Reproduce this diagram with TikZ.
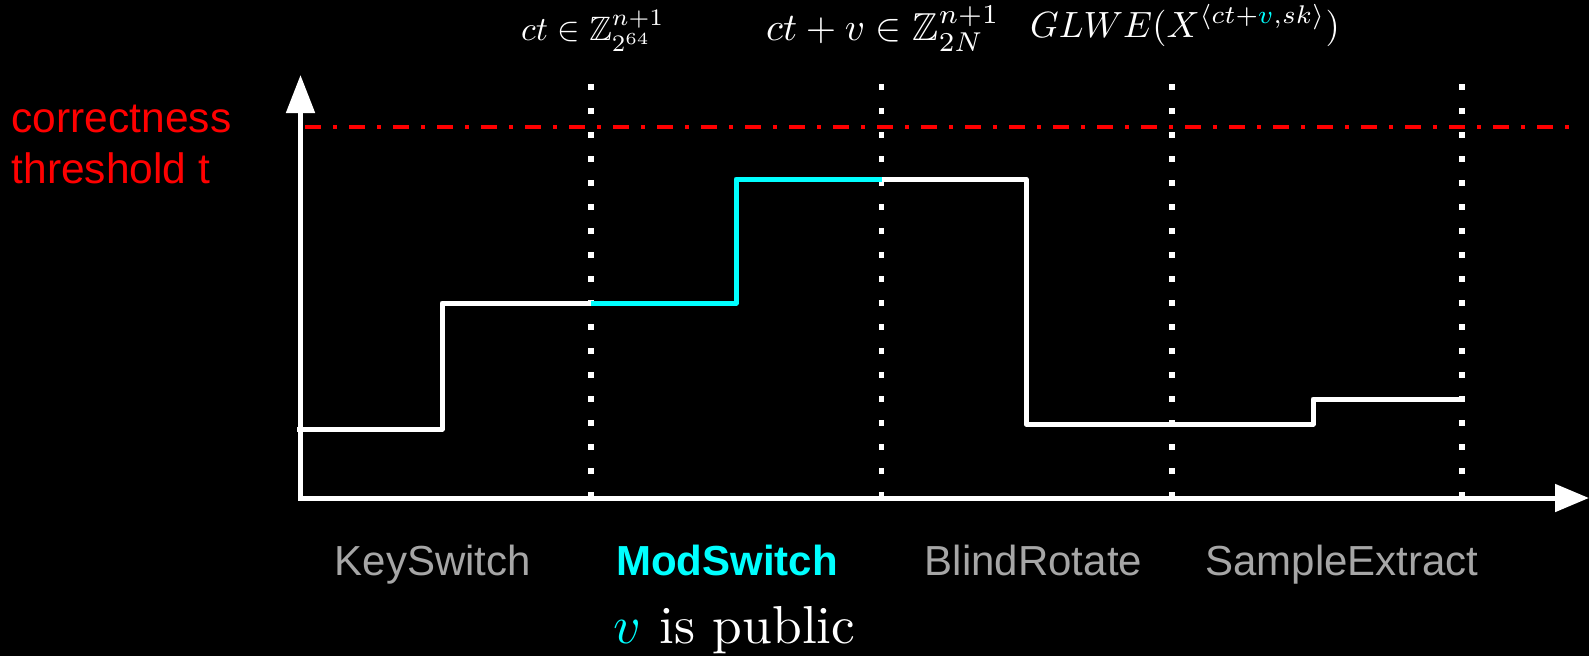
\documentclass[tikz,border=0pt]{standalone}
\usepackage{fontspec}
\usepackage{amssymb}
\usepackage{graphicx}
\usetikzlibrary{arrows.meta}
\newfontfamily\arialf{Liberation Sans}
\definecolor{cyanc}{RGB}{0,255,255}
\definecolor{labgray}{RGB}{166,166,166}
\definecolor{redc}{RGB}{255,0,0}
\begin{document}
\begin{tikzpicture}[x=1pt,y=1pt,
  stepline/.style={line width=5pt, line join=round, line cap=butt},
  dotline/.style={white, line width=5.7pt, dash pattern=on 5.7pt off 18.3pt},
  axisline/.style={white, line width=5pt, line join=miter},
  thrline/.style={redc, line width=4pt, dash pattern=on 16pt off 12pt on 4pt off 12pt},
  opname/.style={font=\arialf\fontsize{42}{50}\selectfont, text=labgray, anchor=base, inner sep=0pt},
  mathlab/.style={text=white, anchor=base west, inner sep=0pt},
  thrtext/.style={font=\arialf\fontsize{42.5}{50}\selectfont, text=redc, anchor=base west, inner sep=0pt}]
\fill[black] (0,0) rectangle (1589,-656);
\useasboundingbox (0,0) rectangle (1589,-656);

% stage boundaries (dotted)
\foreach \i/\x in {1/591,2/881.5,3/1172,4/1462}{
  \coordinate (dt\i) at (\x,-84);
  \coordinate (db\i) at (\x,-498);
  \draw[dotline] (dt\i) -- (db\i);
}

% correctness threshold
\coordinate (ts) at (305,-127);
\coordinate (te) at (1570,-127);
\draw[thrline] (ts) -- (te);

% noise levels
\draw[stepline, white] (297,-429) -- (442,-429) -- (442,-303) -- (591,-303);
\draw[stepline, cyanc] (591,-303) -- (736,-303) -- (736,-179) -- (882,-179);
\draw[stepline, white] (882,-179) -- (1026,-179) -- (1026,-424) -- (1313,-424) -- (1313,-399) -- (1462,-399);

% axes
\coordinate (origin) at (300.5,-498);
\coordinate (ytip) at (300.5,-75);
\coordinate (xtip) at (1589,-498);
\draw[axisline, {Triangle[length=38pt,width=28pt]}-{Triangle[length=34pt,width=27pt]}] (ytip) -- (origin) -- (xtip);

% top labels
\node[mathlab] (l1) at (521,-40) {\scalebox{3.38}{$ct \in \mathbb{Z}_{2^{64}}^{n+1}$}};
\node[mathlab] (l2) at (766,-40) {\scalebox{3.9}{$ct + v \in \mathbb{Z}_{2N}^{n+1}$}};
\node[mathlab] (l3) at (1030,-37) {\scalebox{3.65}{$GLWE(X^{\langle ct+\textcolor{cyanc}{v},sk\rangle})$}};

% threshold label
\node[thrtext] (thr1) at (11.5,-132) {correctness};
\node[thrtext] (thr2) at (11.5,-183) {threshold t};

% operation names
\node[opname] (ks) at (433,-575) {KeySwitch};
\node[opname, text=cyanc, font=\arialf\bfseries\fontsize{42}{50}\selectfont] (ms) at (727,-575) {ModSwitch};
\node[opname] (br) at (1033.5,-575) {BlindRotate};
\node[opname] (se) at (1342,-575) {SampleExtract};

\node[mathlab] (pub) at (613.5,-643) {\scalebox{5.34}{\textcolor{cyanc}{$v$} is public}};
\end{tikzpicture}
\end{document}
